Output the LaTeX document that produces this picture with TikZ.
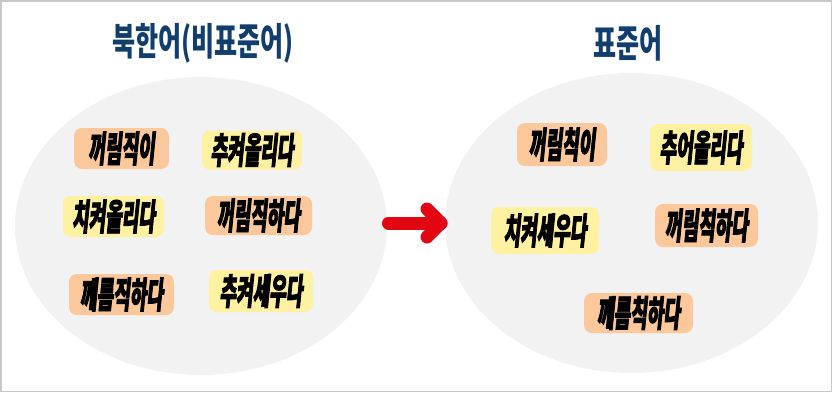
\documentclass[tikz,border=0pt]{standalone}
\usepackage{fontspec}
\usetikzlibrary{shapes.geometric}
\newfontfamily\krtitle[FakeStretch=0.66]{Noto Sans CJK KR}
\newfontfamily\krlab[FakeStretch=0.5,FakeSlant=0.1,FakeBold=2.2]{Noto Sans CJK KR}
\definecolor{framegray}{HTML}{C8C8C8}
\definecolor{ellgray}{HTML}{F2F2F2}
\definecolor{navy}{HTML}{123E6E}
\definecolor{boxorange}{HTML}{FAC89A}
\definecolor{boxyellow}{HTML}{FFF1A2}
\definecolor{arrred}{HTML}{E20613}
\begin{document}
\begin{tikzpicture}[x=1pt,y=-1pt,
  title/.style={text=navy,font=\krtitle\bfseries\fontsize{38}{40}\selectfont,inner sep=0pt},
  lab/.style={rounded corners=8pt,inner sep=0pt,align=center,
     font=\krlab\bfseries\fontsize{36}{36}\selectfont},
  orangebox/.style={lab,fill=boxorange},
  yellowbox/.style={lab,fill=boxyellow},
  bubble/.style={ellipse,fill=ellgray,draw=none},
  arrowline/.style={draw=arrred,line width=13pt,line cap=round,line join=round}]
\useasboundingbox (0,0) rectangle (832,392);
\draw[framegray,line width=1.5pt] (0.75,0.75) rectangle (831.25,391.25);
% bubbles
\node[bubble,minimum width=372pt,minimum height=298pt] (L) at (201,226) {};
\node[bubble,minimum width=373pt,minimum height=300pt] (R) at (631.5,223) {};
% titles
\node[title] (tL) at (203,43) {북한어(비표준어)};
\node[title] (tR) at (628,43) {표준어};
% left labels
\node[orangebox,minimum width=95pt,minimum height=41pt] (a1) at (121.5,148.5) {꺼림직이};
\node[yellowbox,minimum width=100pt,minimum height=39pt] (a2) at (252,150) {추켜올리다};
\node[yellowbox,minimum width=101pt,minimum height=41pt] (a3) at (113.5,216.5) {치켜올리다};
\node[orangebox,minimum width=107pt,minimum height=39pt] (a4) at (258.5,215.5) {꺼림직하다};
\node[orangebox,minimum width=105pt,minimum height=41pt] (a5) at (121.5,294.5) {께름직하다};
\node[yellowbox,minimum width=104pt,minimum height=42pt] (a6) at (261,291) {추켜세우다};
% right labels
\node[orangebox,minimum width=90pt,minimum height=43pt] (b1) at (562,144.5) {꺼림칙이};
\node[yellowbox,minimum width=102pt,minimum height=47pt] (b2) at (701,147.5) {추어올리다};
\node[yellowbox,minimum width=108pt,minimum height=47pt] (b3) at (545,230.5) {치켜세우다};
\node[orangebox,minimum width=103pt,minimum height=43pt] (b4) at (706.5,225.5) {꺼림칙하다};
\node[orangebox,minimum width=109pt,minimum height=40pt] (b5) at (638.5,313) {께름칙하다};
% arrow
\coordinate (arS) at (388.5,223);
\coordinate (arT) at (441,223);
\coordinate (arU) at (427,209);
\coordinate (arD) at (427,237);
\draw[arrowline] (arS) -- (arT);
\draw[arrowline] (arU) -- (arT) -- (arD);
\end{tikzpicture}
\end{document}
